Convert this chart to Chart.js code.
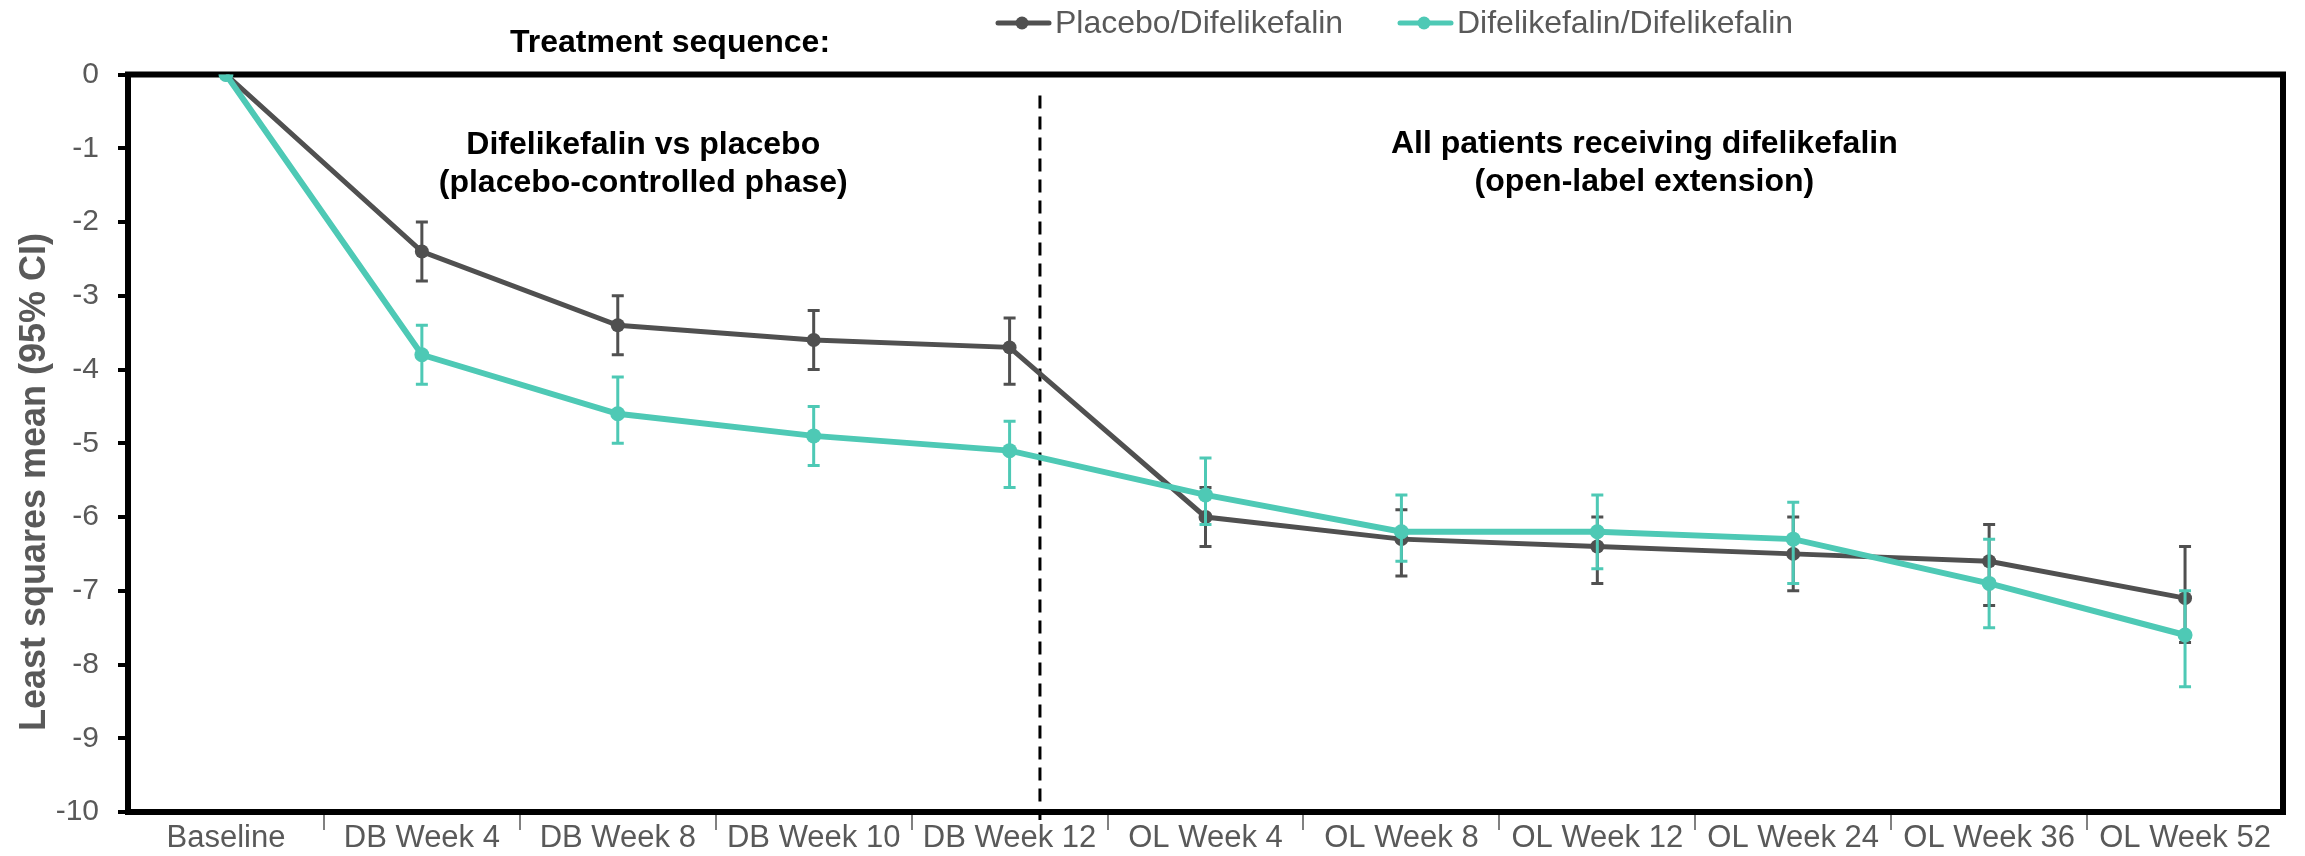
<!DOCTYPE html>
<html>
<head>
<meta charset="utf-8">
<script src="https://cdn.jsdelivr.net/npm/chart.js@4.4.1/dist/chart.umd.min.js"></script>
<style>
  html, body { margin: 0; padding: 0; background: #fff; }
</style>
</head>
<body>
<canvas id="myChart" width="2305" height="856"></canvas>
<script>
// visits along the x axis
const visits = ['Baseline', 'DB Week 4', 'DB Week 8', 'DB Week 10', 'DB Week 12',
  'OL Week 4', 'OL Week 8', 'OL Week 12', 'OL Week 24', 'OL Week 36', 'OL Week 52'];

// least squares means with 95% CI
const placeboMean = [0, -2.4, -3.4, -3.6, -3.7, -6.0, -6.3, -6.4, -6.5, -6.6, -7.1];
const placeboLow  = [null, -2.8, -3.8, -4.0, -4.2, -6.4, -6.8, -6.9, -7.0, -7.2, -7.7];
const placeboHigh = [null, -2.0, -3.0, -3.2, -3.3, -5.6, -5.9, -6.0, -6.0, -6.1, -6.4];

const difMean = [0, -3.8, -4.6, -4.9, -5.1, -5.7, -6.2, -6.2, -6.3, -6.9, -7.6];
const difLow  = [null, -4.2, -5.0, -5.3, -5.6, -6.1, -6.6, -6.7, -6.9, -7.5, -8.3];
const difHigh = [null, -3.4, -4.1, -4.5, -4.7, -5.2, -5.7, -5.7, -5.8, -6.3, -7.0];

const seriesNames = ['Placebo/Difelikefalin', 'Difelikefalin/Difelikefalin'];
const yTicks = [0, -1, -2, -3, -4, -5, -6, -7, -8, -9, -10];

const FONT = "'Liberation Sans', Arial, sans-serif";
const DARK = '#505050';
const TEAL = '#4ec9b5';
const GREY_TEXT = '#595959';

// the two study phases split a bit after DB week 12
const phaseSplit = 4.155;

const errorBars = { 0: [placeboLow, placeboHigh], 1: [difLow, difHigh] };

const extras = {
  id: 'extras',
  beforeDatasetsDraw(chart) {
    const ctx = chart.ctx;
    const a = chart.chartArea;
    const x = chart.scales.x;
    ctx.save();
    // frame
    ctx.strokeStyle = '#000';
    ctx.lineWidth = 6;
    ctx.strokeRect(a.left, a.top, a.right - a.left, a.bottom - a.top);
    // phase divider
    const px = x.getPixelForValue(phaseSplit);
    ctx.lineWidth = 3;
    ctx.setLineDash([13, 8]);
    ctx.beginPath();
    ctx.moveTo(px, a.top + 21);
    ctx.lineTo(px, a.bottom + 8);
    ctx.stroke();
    ctx.restore();
  },
  beforeDatasetDraw(chart, args) {
    const bars = errorBars[args.index];
    if (!bars) return;
    const ctx = chart.ctx;
    const x = chart.scales.x, y = chart.scales.y;
    ctx.save();
    ctx.strokeStyle = chart.data.datasets[args.index].borderColor;
    ctx.lineWidth = 3;
    bars[0].forEach((lo, i) => {
      const hi = bars[1][i];
      if (lo === null || hi === null) return;
      const px = x.getPixelForValue(i);
      const y1 = y.getPixelForValue(lo), y2 = y.getPixelForValue(hi);
      ctx.beginPath();
      ctx.moveTo(px, y1); ctx.lineTo(px, y2);
      ctx.moveTo(px - 6, y1); ctx.lineTo(px + 6, y1);
      ctx.moveTo(px - 6, y2); ctx.lineTo(px + 6, y2);
      ctx.stroke();
    });
    ctx.restore();
  },
  afterDraw(chart) {
    const ctx = chart.ctx;
    const x = chart.scales.x;
    ctx.save();
    ctx.fillStyle = '#000';
    ctx.font = 'bold 32px ' + FONT;
    ctx.textAlign = 'center';
    ctx.textBaseline = 'alphabetic';
    ctx.fillText('Treatment sequence:', 670, 52);
    const leftX = x.getPixelForValue(2.13);
    ctx.fillText('Difelikefalin vs placebo', leftX, 154);
    ctx.fillText('(placebo-controlled phase)', leftX, 192);
    const rightX = x.getPixelForValue(7.24);
    ctx.fillText('All patients receiving difelikefalin', rightX, 153);
    ctx.fillText('(open-label extension)', rightX, 191);

    // legend
    const items = [[995, DARK, seriesNames[0]], [1397, TEAL, seriesNames[1]]];
    ctx.font = '32px ' + FONT;
    ctx.textAlign = 'left';
    items.forEach(([lx, col, name]) => {
      ctx.strokeStyle = col;
      ctx.fillStyle = col;
      ctx.lineWidth = 5;
      ctx.lineCap = 'round';
      ctx.beginPath();
      ctx.moveTo(lx + 3, 23); ctx.lineTo(lx + 54, 23);
      ctx.stroke();
      ctx.beginPath();
      ctx.arc(lx + 27, 23, 6.5, 0, Math.PI * 2);
      ctx.fill();
      ctx.fillStyle = GREY_TEXT;
      ctx.fillText(name, lx + 60, 33);
    });

    // y axis title
    ctx.translate(45, 482);
    ctx.rotate(-Math.PI / 2);
    ctx.fillStyle = GREY_TEXT;
    ctx.font = 'bold 36px ' + FONT;
    ctx.textAlign = 'center';
    ctx.textBaseline = 'alphabetic';
    ctx.fillText('Least squares mean (95% CI)', 0, 0);
    ctx.restore();
  }
};

new Chart('myChart', {
  type: 'line',
  data: {
    labels: visits,
    datasets: [{
      label: seriesNames[0],
      data: placeboMean,
      borderColor: DARK,
      backgroundColor: DARK,
      borderWidth: 5,
      pointRadius: 7,
      pointBorderWidth: 0,
      order: 1
    }, {
      label: seriesNames[1],
      data: difMean,
      borderColor: TEAL,
      backgroundColor: TEAL,
      borderWidth: 6,
      pointRadius: 7.5,
      pointBorderWidth: 0,
      order: 0
    }]
  },
  options: {
    responsive: false,
    animation: false,
    devicePixelRatio: 1,
    layout: { padding: { top: 74.5, right: 22, left: 0, bottom: 0 } },
    plugins: { legend: { display: false }, tooltip: { enabled: false } },
    scales: {
      x: {
        offset: true,
        afterFit: s => { s.height = 44; },
        border: { display: false },
        grid: {
          offset: true,
          drawOnChartArea: false,
          tickLength: 18,
          lineWidth: 2,
          color: c => (c.index === undefined || c.index === 0) ? 'rgba(0,0,0,0)' : '#808080'
        },
        ticks: {
          color: GREY_TEXT,
          font: { family: FONT, size: 31 },
          padding: -10,
          maxRotation: 0,
          autoSkip: false
        }
      },
      y: {
        min: -10,
        max: 0,
        afterFit: s => { s.width = 128; },
        afterBuildTicks: s => { s.ticks = yTicks.map(v => ({ value: v })); },
        border: { display: false },
        grid: {
          drawOnChartArea: false,
          tickLength: 10,
          lineWidth: 4,
          color: '#000'
        },
        ticks: {
          color: GREY_TEXT,
          font: { family: FONT, size: 30 },
          padding: 19
        }
      }
    }
  },
  plugins: [extras]
});
</script>
</body>
</html>
